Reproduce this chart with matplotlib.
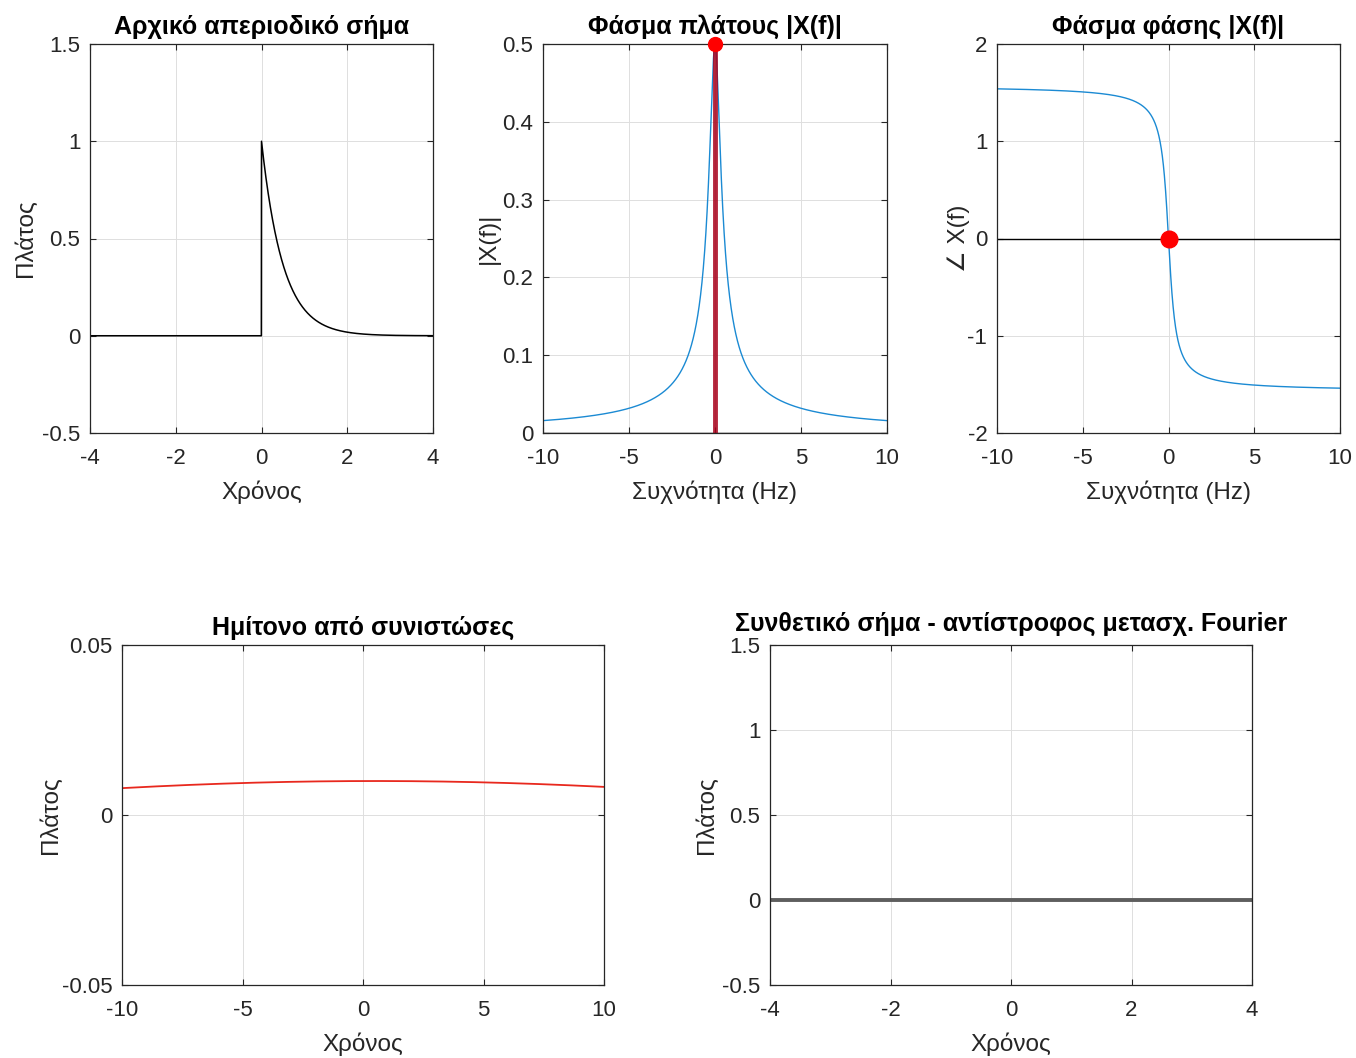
import numpy as np
import matplotlib
matplotlib.use("Agg")
import matplotlib.pyplot as plt

plt.rcParams['font.family'] = ['Liberation Sans', 'DejaVu Sans']
plt.rcParams['axes.linewidth'] = 0.9

# Signal parameters: x(t) = exp(-a t) u(t)
decay_rate = 2.0
t_range = (-4.0, 4.0)
f_range = (-10.0, 10.0)
df = 0.01                 # frequency resolution
f_component = 0.01        # frequency of the single component shown

tick_x_time = [-4, -2, 0, 2, 4]
tick_y_signal = [-0.5, 0, 0.5, 1, 1.5]
tick_x_freq = [-10, -5, 0, 5, 10]
tick_y_mag = [0, 0.1, 0.2, 0.3, 0.4, 0.5]
tick_y_phase = [-2, -1, 0, 1, 2]
tick_x_comp = [-10, -5, 0, 5, 10]
tick_y_comp = [-0.05, 0, 0.05]

stem_freq = [0.0]
stem_mag = [0.5]
stem_phase = [0.0]

TXT = '#262626'
BLUE = '#1b8ad3'

t = np.linspace(t_range[0], t_range[1], 2001)
x = np.where(t >= 0, np.exp(-decay_rate * np.clip(t, 0, None)), 0.0)
f = np.linspace(f_range[0], f_range[1], 2001)
Xf = 1.0 / (decay_rate + 2j * np.pi * f)
t_comp = np.linspace(-10, 10, 1001)
Xc = 1.0 / (decay_rate + 2j * np.pi * f_component)
comp = 2 * np.abs(Xc) * df * np.cos(2 * np.pi * f_component * t_comp + np.angle(Xc))
recon = np.zeros_like(t)

W, H = 1356, 1058
fig = plt.figure(figsize=(W / 100, H / 100), dpi=100)


def add_ax(x0, y0, x1, y1):
    return fig.add_axes([x0 / W, 1 - y1 / H, (x1 - x0) / W, (y1 - y0) / H])


def style(ax, xt, yt, xlim, ylim, title, xlabel, ylabel, ylabel_pad=4, title_pad=7):
    ax.set_xlim(*xlim)
    ax.set_ylim(*ylim)
    ax.set_xticks(xt)
    ax.set_yticks(yt)
    ax.set_xticklabels([f'{v:g}' for v in xt])
    ax.set_yticklabels([f'{v:g}' for v in yt])
    ax.grid(True, color='#dedede', linewidth=0.7)
    ax.set_axisbelow(True)
    ax.tick_params(direction='in', top=True, right=True, length=4,
                   labelsize=16, colors=TXT)
    ax.tick_params(axis='x', pad=11)
    ax.tick_params(axis='y', pad=7)
    for sp in ax.spines.values():
        sp.set_color('#262626')
    ax.set_title(title, fontsize=18, fontweight='bold', color='black', pad=title_pad)
    if xlabel:
        ax.set_xlabel(xlabel, fontsize=17.5, color=TXT, labelpad=8)
    if ylabel:
        ax.set_ylabel(ylabel, fontsize=17.5, color=TXT, labelpad=ylabel_pad)


# Original aperiodic signal
ax1 = add_ax(90, 44, 433, 433)
ax1.plot(t, x, color='black', linewidth=1.1)
style(ax1, tick_x_time, tick_y_signal, t_range, (-0.5, 1.5),
      'Αρχικό απεριοδικό σήμα', 'Χρόνος', 'Πλάτος', ylabel_pad=4)

# Magnitude spectrum
ax2 = add_ax(543, 44, 887, 433)
ax2.plot(f, np.abs(Xf), color=BLUE, linewidth=1.0)
ax2.axhline(0, color='black', linewidth=1.0)
ax2.vlines(stem_freq, 0, stem_mag, color='#a8001a', linewidth=3.5, alpha=0.85)
ax2.plot(stem_freq, stem_mag, 'o', color='#ff0000', markersize=10, clip_on=False, zorder=5)
style(ax2, tick_x_freq, tick_y_mag, f_range, (0, 0.5),
      'Φάσμα πλάτους |X(f)|', 'Συχνότητα (Hz)', '|X(f)|', ylabel_pad=2)

# Phase spectrum
ax3 = add_ax(997, 44, 1340, 433)
ax3.plot(f, np.angle(Xf), color=BLUE, linewidth=1.0)
ax3.axhline(0, color='black', linewidth=1.0)
ax3.plot(stem_freq, stem_phase, 'o', color='#ff0000', markersize=12, zorder=5)
style(ax3, tick_x_freq, tick_y_phase, f_range, (-2, 2),
      'Φάσμα φάσης |X(f)|', 'Συχνότητα (Hz)', '∠ X(f)', ylabel_pad=-2)

# Single sinusoidal component
ax4 = add_ax(122, 645, 604, 985)
ax4.plot(t_comp, comp, color='#e8281e', linewidth=1.3)
style(ax4, tick_x_comp, tick_y_comp, (-10, 10), (-0.05, 0.05),
      'Ημίτονο από συνιστώσες', 'Χρόνος', 'Πλάτος', ylabel_pad=0)

# Synthesised signal (inverse Fourier transform)
ax5 = add_ax(770, 645, 1252, 985)
ax5.plot(t, recon, color='#5e5e5e', linewidth=2.8)
style(ax5, tick_x_time, tick_y_signal, t_range, (-0.5, 1.5),
      'Συνθετικό σήμα - αντίστροφος μετασχ. Fourier', 'Χρόνος', 'Πλάτος',
      ylabel_pad=3, title_pad=10)

fig.savefig('out.png', dpi=100, facecolor='white')
